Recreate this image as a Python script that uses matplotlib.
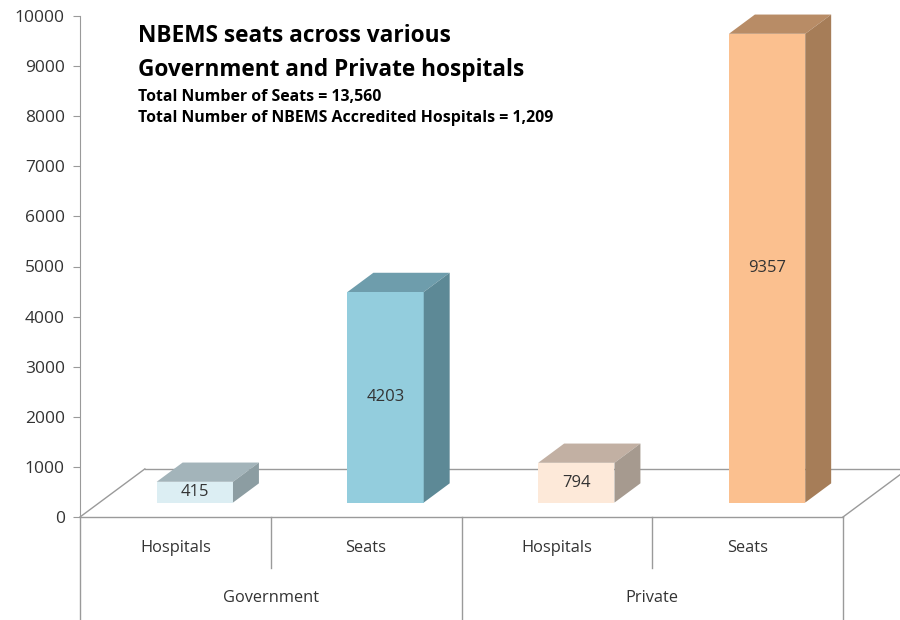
import matplotlib.pyplot as plt
from matplotlib.patches import Polygon
from matplotlib.transforms import blended_transform_factory

# data
groups = ['Government', 'Private']
subcats = ['Hospitals', 'Seats', 'Hospitals', 'Seats']
values = [415, 4203, 794, 9357]
front_colors = ['#DCEEF3', '#93CDDD', '#FDE9D9', '#FBC08F']
top_colors = ['#A3B4BA', '#6E9DAC', '#C2B0A3', '#B88C66']
side_colors = ['#8C9DA2', '#5D8996', '#A69A8F', '#A67D58']

plt.rcParams['font.family'] = ['Open Sans', 'DejaVu Sans']

fig = plt.figure(figsize=(9, 6.2), dpi=100)
ax = fig.add_axes([80/900, 103/620, 763/900, 501/620])
ax.set_xlim(0, len(values))
ax.set_ylim(0, 10000)

# pseudo 3D depth (x units, value units)
DX, DY = 0.34, 960
w = 0.4
d0, d1 = 0.3, 0.7

# floor
gray = '#9a9a9a'
n = len(values)
ax.plot([0, n], [0, 0], color=gray, lw=1, clip_on=False, zorder=1)
ax.plot([0, DX], [0, DY], color=gray, lw=1, clip_on=False, zorder=1)
ax.plot([DX, n + DX], [DY, DY], color=gray, lw=1, clip_on=False, zorder=1)
ax.plot([n, n + DX], [0, DY], color=gray, lw=1, clip_on=False, zorder=1)

for i, v in enumerate(values):
    c = i + 0.5
    x0 = c - w / 2 + d0 * DX
    y0 = d0 * DY
    bdx = (d1 - d0) * DX
    bdy = (d1 - d0) * DY
    front = Polygon([(x0, y0), (x0 + w, y0), (x0 + w, y0 + v), (x0, y0 + v)],
                    closed=True, facecolor=front_colors[i], edgecolor='none', zorder=3, clip_on=False)
    top = Polygon([(x0, y0 + v), (x0 + w, y0 + v), (x0 + w + bdx, y0 + v + bdy), (x0 + bdx, y0 + v + bdy)],
                  closed=True, facecolor=top_colors[i], edgecolor='none', zorder=3, clip_on=False)
    side = Polygon([(x0 + w, y0), (x0 + w + bdx, y0 + bdy), (x0 + w + bdx, y0 + v + bdy), (x0 + w, y0 + v)],
                   closed=True, facecolor=side_colors[i], edgecolor='none', zorder=3, clip_on=False)
    for p in (front, top, side):
        ax.add_patch(p)
    ax.text(x0 + w / 2, y0 + v / 2, str(v), ha='center', va='center',
            fontsize=12, color='#333333', zorder=4)

# category axis (two levels)
tr = blended_transform_factory(ax.transData, ax.transAxes)
for i, lab in enumerate(subcats):
    ax.text(i + 0.5, -0.062, lab, transform=tr, ha='center', va='center',
            fontsize=11.8, color='#333333')
for j, g in enumerate(groups):
    ax.text(2 * j + 1, -0.162, g, transform=tr, ha='center', va='center',
            fontsize=11.8, color='#333333')
for k in range(n + 1):
    bottom = -0.21 if k % 2 == 0 else -0.102
    ax.plot([k, k], [0, bottom], transform=tr, color=gray, lw=1, clip_on=False)

# value axis
for s in ['top', 'right', 'bottom']:
    ax.spines[s].set_visible(False)
ax.spines['left'].set_color(gray)
ax.set_yticks(range(0, 10001, 1000))
ax.tick_params(axis='y', length=5, color=gray, labelsize=12.5, labelcolor='#333333', pad=6)
ax.set_xticks([])
ax.patch.set_alpha(0)

# title block
fig.text(138/900, 1 - 36/620, 'NBEMS seats across various', fontsize=16.3, fontweight='bold', va='center')
fig.text(138/900, 1 - 70/620, 'Government and Private hospitals', fontsize=16.3, fontweight='bold', va='center')
fig.text(138/900, 1 - 97/620, 'Total Number of Seats = 13,560', fontsize=11.4, fontweight='bold', va='center')
fig.text(138/900, 1 - 118/620, 'Total Number of NBEMS Accredited Hospitals = 1,209', fontsize=11.4, fontweight='bold', va='center')

fig.savefig('out.png', dpi=100)
